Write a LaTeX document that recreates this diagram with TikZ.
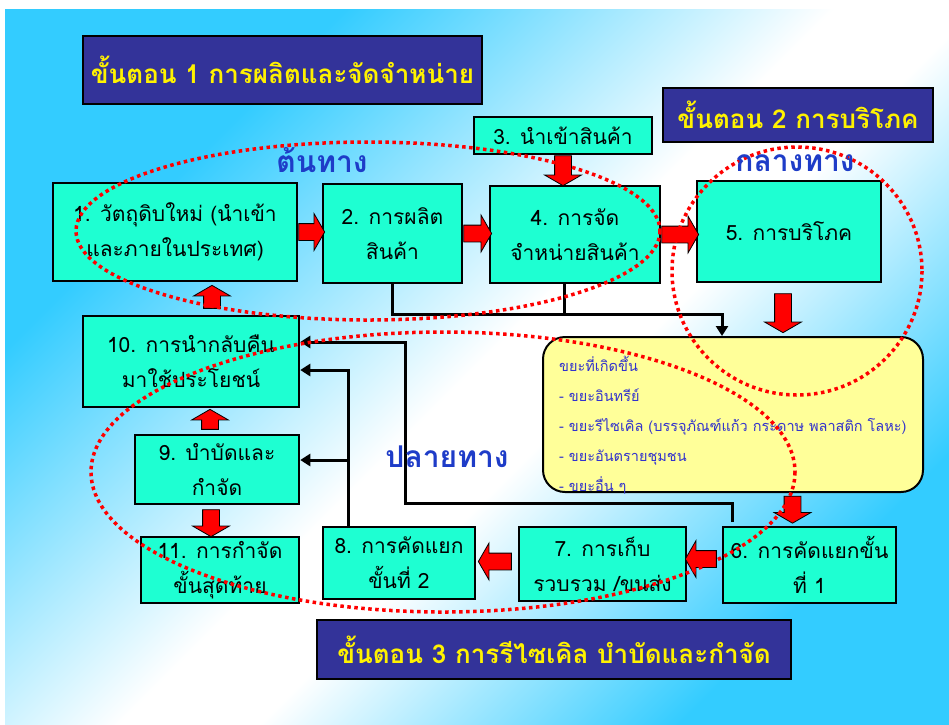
\documentclass[tikz,border=0pt]{standalone}
\usepackage{fontspec}
\setmainfont[Script=Thai]{Loma}
\usetikzlibrary{shapes.arrows,arrows.meta,positioning}
\definecolor{skyblue}{RGB}{51,204,255}
\definecolor{stagefill}{RGB}{51,51,153}
\definecolor{boxfill}{RGB}{30,255,210}
\definecolor{notefill}{RGB}{255,255,153}
\definecolor{notetext}{RGB}{51,51,204}
\definecolor{zoneblue}{RGB}{30,60,200}
\pgfdeclarehorizontalshading{skyband}{100bp}{color(0bp)=(skyblue); color(29bp)=(skyblue); color(50bp)=(white); color(56bp)=(white); color(74bp)=(skyblue); color(100bp)=(skyblue)}

\begin{document}
\begin{tikzpicture}[x=1pt, y=-1pt,
box/.style = {rectangle, draw=black, line width=2.5pt, fill=boxfill, align=center, inner sep=0pt, font=\fontsize{21}{35}\selectfont},
stagebox/.style = {rectangle, draw=black, line width=1.5pt, fill=stagefill, text=yellow, inner sep=0pt, font=\bfseries\fontsize{26}{30}\selectfont},
zonelabel/.style = {text=zoneblue, inner sep=0pt, font=\bfseries\fontsize{30}{34}\selectfont},
bigarrow/.style = {single arrow, draw=black, line width=0.8pt, fill=red, inner xsep=1pt, inner ysep=8pt, single arrow head extend=10pt, single arrow tip angle=120, anchor=tail},
downarrow/.style = {bigarrow, inner xsep=8pt, inner ysep=1pt},
link/.style = {line width=3pt, -{Triangle[length=10pt,width=12pt]}},
zoneline/.style = {red, line width=3.5pt, dash pattern=on 3.5pt off 3.5pt}]
\useasboundingbox (0,0) rectangle (949,724);
\fill[white] (0,0) rectangle (949,724);
\shade[shading=skyband, shading angle=-45] (5,9) rectangle (949,724);

\node[stagebox, minimum width=399pt, minimum height=68pt] at (282.5,70) (stage1) {ขั้นตอน 1 การผลิตและจัดจำหน่าย};
\node[stagebox, minimum width=270pt, minimum height=54pt] at (798,115) (stage2) {ขั้นตอน 2 การบริโภค};
\node[stagebox, minimum width=474pt, minimum height=59pt] at (554,649.5) (stage3) {ขั้นตอน 3 การรีไซเคิล บำบัดและกำจัด};

\node[box, minimum width=244pt, minimum height=98pt] at (175,232) (raw) {1. วัตถุดิบใหม่ (นำเข้า\\และภายในประเทศ)};
\node[box, minimum width=139pt, minimum height=99pt] at (392.5,233.5) (make) {2. การผลิต\\สินค้า};
\node[box, minimum width=178pt, minimum height=37pt] at (563,135.5) (import) {3. นำเข้าสินค้า};
\node[box, minimum width=170pt, minimum height=97pt] at (575,234.5) (sell) {4. การจัด\\จำหน่ายสินค้า};
\node[box, minimum width=184pt, minimum height=101pt] at (789,231.5) (use) {5. การบริโภค};
\node[box, minimum width=173pt, minimum height=76pt] at (809.5,565) (sort1) {6. การคัดแยกขั้น\\ที่ 1};
\node[box, minimum width=167pt, minimum height=74pt] at (602.5,564) (collect) {7. การเก็บ\\รวบรวม /ขนส่ง};
\node[box, minimum width=152pt, minimum height=72pt] at (399,563) (sort2) {8. การคัดแยก\\ขั้นที่ 2};
\node[box, minimum width=164pt, minimum height=69pt] at (217,469.5) (treat) {9. บำบัดและ\\กำจัด};
\node[box, minimum width=216pt, minimum height=91pt] at (191,361.5) (reuse) {10. การนำกลับคืน\\มาใช้ประโยชน์};
\node[box, minimum width=158pt, minimum height=66pt] at (220,570) (final) {11. การกำจัด\\ขั้นสุดท้าย};

\node[rectangle, rounded corners=22pt, draw=black, line width=2pt, fill=notefill, minimum width=380pt, minimum height=155pt] at (733,414.5) (waste) {};
\node[anchor=north west, align=left, inner sep=0pt, text=notetext, font=\fontsize{14.5}{30}\selectfont] at (559,356) (wastelist) {ขยะที่เกิดขึ้น\\- ขยะอินทรีย์\\- ขยะรีไซเคิล (บรรจุภัณฑ์แก้ว กระดาษ พลาสติก โลหะ)\\- ขยะอันตรายชุมชน\\- ขยะอื่น ๆ};

\coordinate (j1) at (722,314);
\draw [line width=3pt] ([xshift=-11pt]sell.south) -- ([xshift=-11pt]sell.south |- j1);
\draw [link] (make.south) |- (j1) -- (j1 |- waste.north);
\coordinate (j2) at (732,522);
\coordinate (j3) at (405,503);
\draw [link] (j2) |- (j3) |- ([yshift=19.5pt]reuse.east);
\draw [link] ([xshift=-51pt]sort2.north) |- ([yshift=-8.5pt]reuse.east);
\coordinate (j5) at (348,460);
\draw [link] (j5) -- (j5 -| treat.east);

\node[bigarrow, minimum height=26pt] at (raw.east) (a1) {};
\node[bigarrow, minimum height=28pt] at (make.east) (a2) {};
\node[bigarrow, minimum height=37pt] at (sell.east) (a4) {};
\node[downarrow, minimum height=30pt, shape border rotate=270] at (import.south) (a3) {};
\node[downarrow, minimum height=39pt, shape border rotate=270] at ([xshift=-6pt,yshift=-10pt]use.south) (a5) {};
\node[downarrow, minimum height=27pt, shape border rotate=270] at ([xshift=-17pt,yshift=30pt]sort1.north) (aw) {};
\node[bigarrow, minimum height=31pt, shape border rotate=180] at ([xshift=-5pt,yshift=6pt]sort1.west) (a6) {};
\node[bigarrow, minimum height=33pt, shape border rotate=180] at ([xshift=-6pt,yshift=2.5pt]collect.west) (a7) {};
\node[downarrow, minimum height=23pt, shape border rotate=90] at ([xshift=21pt,yshift=6pt]reuse.north) (a10) {};
\node[downarrow, minimum height=20pt, shape border rotate=90] at ([xshift=-7pt,yshift=4pt]treat.north) (a9) {};
\node[downarrow, minimum height=27pt, shape border rotate=270] at ([xshift=-6pt,yshift=-4pt]treat.south) (a11) {};

\draw [zoneline] (368,231) ellipse [x radius=292, y radius=89];
\draw [zoneline] (797,271) ellipse [x radius=125, y radius=124];
\draw [zoneline] (443,472) ellipse [x radius=352, y radius=140];

\node[zonelabel] at (322,160) (zstart) {ต้นทาง};
\node[zonelabel] at (795,163) (zmid) {กลางทาง};
\node[zonelabel] at (447,457) (zend) {ปลายทาง};
\end{tikzpicture}
\end{document}
